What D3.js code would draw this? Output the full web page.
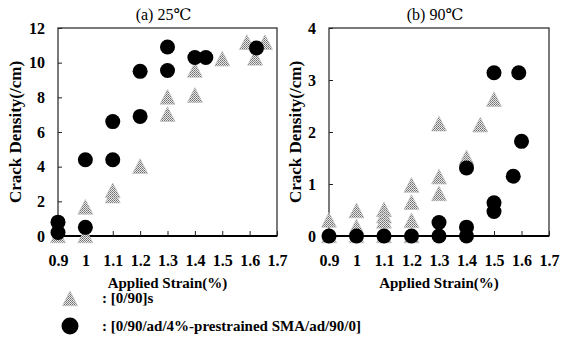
<!DOCTYPE html>
<html><head><meta charset="utf-8">
<script src="https://cdn.jsdelivr.net/npm/d3@7"></script>
<style>body{margin:0;background:#fff;} svg{display:block;} text{font-family:"Liberation Serif","DejaVu Serif","Times New Roman",serif;}</style>
</head><body>
<svg id="c" width="562" height="341"></svg>
<script>
// ---- data ----
const xTicks = [0.9, 1, 1.1, 1.2, 1.3, 1.4, 1.5, 1.6, 1.7];
const yTicks25 = [0, 2, 4, 6, 8, 10, 12];
const yTicks90 = [0, 1, 2, 3, 4];
const titles = ["(a) 25\u2103", "(b) 90\u2103"];
const seriesNames = [": [0/90]s", ": [0/90/ad/4%-prestrained SMA/ad/90/0]"];

// (a) 25°C
const triStrain25 = [0.9, 1.0, 1.0, 1.1, 1.1, 1.2, 1.3, 1.3, 1.4, 1.4, 1.5, 1.59, 1.656, 1.62];
const triDensity25 = [0, 1.65, 0, 2.3, 2.6, 4.0, 8.0, 7.0, 8.1, 9.55, 10.2, 11.15, 11.15, 10.25];
const cirStrain25 = [0.9, 0.9, 1.0, 1.0, 1.1, 1.1, 1.2, 1.2, 1.3, 1.3, 1.4, 1.44, 1.625];
const cirDensity25 = [0.8, 0.2, 4.4, 0.5, 6.6, 4.4, 9.5, 6.9, 10.9, 9.55, 10.3, 10.3, 10.85];

// (b) 90°C
const triStrain90 = [0.9, 1.0, 1.1, 1.2, 0.9, 1.0, 1.0, 1.1, 1.1, 1.1, 1.2, 1.2, 1.2, 1.3, 1.3, 1.3, 1.4, 1.45, 1.5];
const triDensity90 = [0, 0, 0, 0, 0.3, 0.48, 0.17, 0.5, 0.38, 0.28, 0.97, 0.64, 0.29, 2.15, 1.13, 0.81, 1.5, 2.13, 2.62];
const cirStrain90 = [0.9, 1.0, 1.1, 1.2, 1.3, 1.3, 1.4, 1.4, 1.4, 1.5, 1.5, 1.5, 1.57, 1.59, 1.6];
const cirDensity90 = [0, 0, 0, 0, 0, 0.26, 0, 0.17, 1.31, 3.14, 0.64, 0.47, 1.15, 3.14, 1.82];

// ---- drawing ----
const svg = d3.select("#c");
const serif = "Liberation Serif, DejaVu Serif, Times New Roman, serif";

const defs = svg.append("defs");
const pat = defs.append("pattern").attr("id", "dots").attr("width", 2).attr("height", 2)
  .attr("patternUnits", "userSpaceOnUse");
pat.append("rect").attr("width", 2).attr("height", 2).attr("fill", "#e8e8e8");
pat.append("rect").attr("width", 1).attr("height", 1).attr("fill", "#6e6e6e");
pat.append("rect").attr("x", 1).attr("y", 1).attr("width", 1).attr("height", 1).attr("fill", "#8a8a8a");

function triPath(cx, cy) {
  const w = 7.5, h = 8;
  return `M${cx},${cy - h}L${cx + w},${cy + h * 0.85}L${cx - w},${cy + h * 0.85}Z`;
}

function panel(o) {
  const x = d3.scaleLinear().domain([0.9, 1.7]).range([o.left, o.right]);
  const y = d3.scaleLinear().domain([0, o.ymax]).range([o.bottom, o.top]);
  const g = svg.append("g");

  // frame
  g.append("rect").attr("x", o.left).attr("y", o.top)
    .attr("width", o.right - o.left).attr("height", o.bottom - o.top)
    .attr("fill", "none").attr("stroke", "#222").attr("stroke-width", 1.2);
  g.append("line").attr("x1", o.left).attr("x2", o.right).attr("y1", o.bottom).attr("y2", o.bottom)
    .attr("stroke", "#000").attr("stroke-width", 2);

  // inward ticks
  const yAx = g.append("g").attr("transform", `translate(${o.left},0)`)
    .call(d3.axisRight(y).tickValues(o.yTicks).tickSize(4).tickFormat(""));
  yAx.select(".domain").remove();
  yAx.selectAll("line").attr("stroke", "#222");
  const xAx = g.append("g").attr("transform", `translate(0,${o.bottom})`)
    .call(d3.axisTop(x).tickValues(xTicks).tickSize(5).tickFormat(""));
  xAx.select(".domain").remove();
  xAx.selectAll("line").attr("stroke", "#222");

  // tick labels
  const yl = g.append("g").attr("transform", `translate(${o.left - 13},0)`)
    .call(d3.axisLeft(y).tickValues(o.yTicks).tickSize(0).tickPadding(0).tickFormat(d3.format("d")));
  yl.select(".domain").remove();
  yl.attr("font-family", serif);
  yl.selectAll("text").attr("font-family", serif).attr("font-weight", "bold")
    .attr("font-size", 16).attr("fill", "#000");

  const xl = g.append("g").attr("transform", `translate(0,${o.bottom + 19})`)
    .call(d3.axisBottom(x).tickValues(xTicks).tickSize(0).tickPadding(0).tickFormat(d => String(d)));
  xl.select(".domain").remove();
  xl.attr("font-family", serif);
  xl.selectAll("text").attr("font-family", serif).attr("font-weight", "bold")
    .attr("font-size", 16).attr("fill", "#000");

  // title
  g.append("text").attr("x", (o.left + o.right) / 2 - 4).attr("y", 20)
    .attr("text-anchor", "middle").attr("font-family", serif).attr("font-size", 16)
    .text(o.title);
  // axis titles
  g.append("text").attr("x", (o.left + o.right) / 2).attr("y", 288)
    .attr("text-anchor", "middle").attr("font-family", serif).attr("font-weight", "bold")
    .attr("font-size", 15).text("Applied Strain(%)");
  g.append("text").attr("transform", `translate(${o.left - o.yLabOff},${(o.top + o.bottom) / 2}) rotate(-90)`)
    .attr("text-anchor", "middle").attr("font-family", serif).attr("font-weight", "bold")
    .attr("font-size", 17).text("Crack Density(/cm)");

  // markers
  g.selectAll(".tri").data(d3.zip(o.triX, o.triY)).join("path")
    .attr("d", d => triPath(x(d[0]), y(d[1])))
    .attr("fill", "url(#dots)").attr("stroke", "#bbb").attr("stroke-width", 0.6);
  g.selectAll(".cir").data(d3.zip(o.cirX, o.cirY)).join("circle")
    .attr("cx", d => x(d[0])).attr("cy", d => y(d[1])).attr("r", 7.5).attr("fill", "#000");
}

panel({left: 58, right: 277, top: 28, bottom: 236, ymax: 12, yTicks: yTicks25, title: titles[0], yLabOff: 37,
  triX: triStrain25, triY: triDensity25, cirX: cirStrain25, cirY: cirDensity25});
panel({left: 329, right: 549, top: 28, bottom: 236, ymax: 4, yTicks: yTicks90, title: titles[1], yLabOff: 28,
  triX: triStrain90, triY: triDensity90, cirX: cirStrain90, cirY: cirDensity90});

// legend
const lg = svg.append("g");
lg.append("path").attr("d", triPath(70, 299)).attr("fill", "url(#dots)").attr("stroke", "#bbb").attr("stroke-width", 0.6);
lg.append("circle").attr("cx", 70).attr("cy", 326).attr("r", 8.5).attr("fill", "#000");
lg.selectAll("text.lt").data(seriesNames).join("text")
  .attr("x", 102).attr("y", (d, i) => 303 + i * 28)
  .attr("font-family", serif).attr("font-weight", "bold").attr("font-size", 15)
  .text(d => d);
</script>
</body></html>
